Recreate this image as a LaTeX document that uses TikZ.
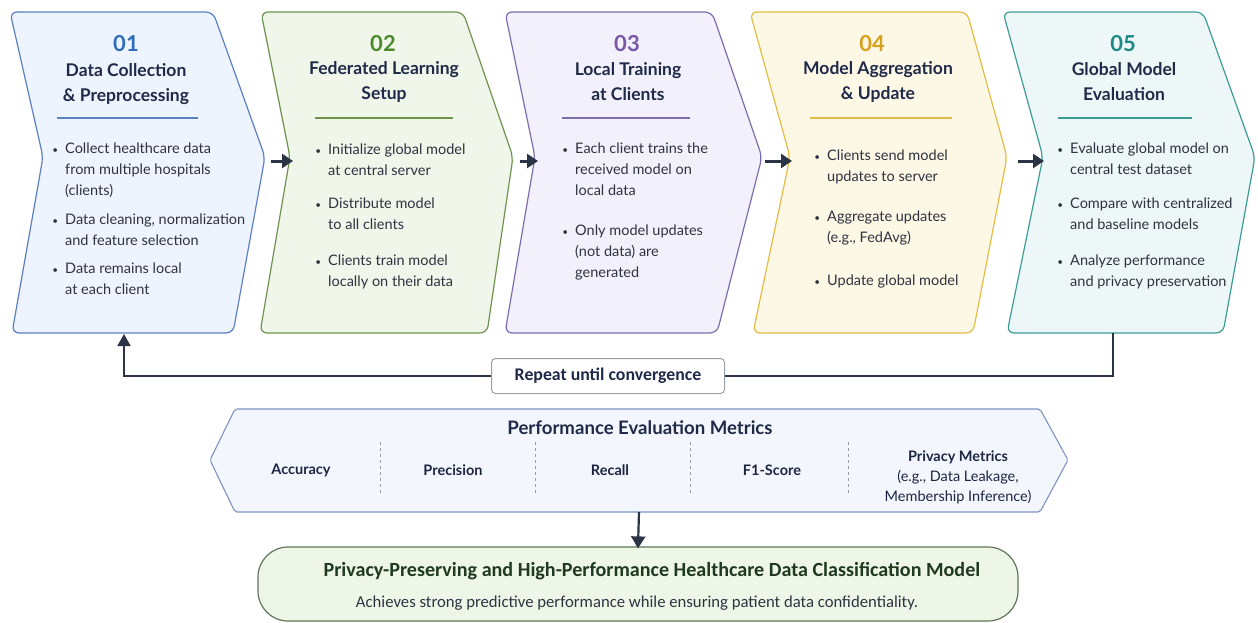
\documentclass[tikz,border=0pt]{standalone}
\usepackage{fontspec}
\setmainfont{Lato}
\newfontfamily\condfont{Carlito}
\usetikzlibrary{arrows.meta}

% stage colours: border (B), fill (F), number (N)
\definecolor{blueB}{HTML}{5B7FC4}
\definecolor{blueF}{HTML}{EEF4FD}
\definecolor{blueN}{HTML}{2F6DB8}
\definecolor{greenB}{HTML}{6E9450}
\definecolor{greenF}{HTML}{F1F6EA}
\definecolor{greenN}{HTML}{4B8B2B}
\definecolor{purpB}{HTML}{7D6DAE}
\definecolor{purpF}{HTML}{F2F0FA}
\definecolor{purpN}{HTML}{7657A8}
\definecolor{goldB}{HTML}{E3BD45}
\definecolor{goldF}{HTML}{FDF7E6}
\definecolor{goldN}{HTML}{D9A21E}
\definecolor{tealB}{HTML}{3D9C97}
\definecolor{tealF}{HTML}{EDF7F7}
\definecolor{tealN}{HTML}{1E8A84}
\definecolor{navy}{HTML}{1F2A48}
\definecolor{bodytxt}{HTML}{2F3340}
\definecolor{arrowc}{HTML}{2B3445}
\definecolor{metB}{HTML}{7D94C0}
\definecolor{metF}{HTML}{F3F6FC}
\definecolor{resB}{HTML}{5F7658}
\definecolor{resF}{HTML}{EEF6E8}
\definecolor{resT}{HTML}{1F3A1F}
\definecolor{sepc}{HTML}{9AA0AA}

% one chevron-shaped stage box: name, top-left x, top-right x, tip x,
% bottom-right x, bottom-left x, notch x, colour prefix
\newcommand\stagechev[8]{%
  \draw[chevbox, draw=#8B, fill=#8F] (#2,12) -- (#3,12) -- (#4,157) -- (#5,333)
    -- (#6,333) -- (#7,157) -- cycle;
  \coordinate (#1tip) at (#4,161);
  \coordinate (#1notch) at (#7,161);
}
\newcommand\bdot{\llap{{\fontsize{10}{10}\selectfont\textbullet}\hspace{7pt}}}

\begin{document}
\begin{tikzpicture}[x=1pt,y=-1pt,
  chevbox/.style={line width=1.2pt, rounded corners=7pt},
  numtxt/.style={font=\fontsize{22}{24}\selectfont\bfseries},
  titletxt/.style={font=\fontsize{17.5}{25}\selectfont\bfseries, text=navy, align=center},
  bullettxt/.style={font=\fontsize{14.5}{21}\selectfont, text=bodytxt, align=left,
    anchor=north west, inner sep=0pt},
  headrule/.style={line width=1.2pt},
  flowarrow/.style={draw=arrowc, line width=3pt, -{Triangle[length=11pt,width=14pt]}},
  loopline/.style={draw=arrowc, line width=1.8pt},
  metlabel/.style={font=\fontsize{14.5}{20}\selectfont\bfseries, text=navy!90!black, align=center},
  sepline/.style={draw=sepc, dashed, line width=0.9pt}
]
\useasboundingbox (0,0) rectangle (1258,623);

% ---------- five stage boxes ----------
\stagechev{s1}{10}{213}{265}{233}{12}{43}{blue}
\stagechev{s2}{261}{463}{513}{487}{260}{290}{green}
\stagechev{s3}{505}{712}{762}{717}{505}{535}{purp}
\stagechev{s4}{750}{967}{1007}{973}{753}{790}{gold}
\stagechev{s5}{1003}{1203}{1255}{1223}{1007}{1043}{teal}

% stage 01
\node[numtxt, text=blueN] (n1) at (126,44) {01};
\node[titletxt] (t1) at (126,84) {Data Collection\\\& Preprocessing};
\draw[headrule, blueB] (57,118) -- (198,118);
\node[bullettxt] (p1a) at (65,143) {\bdot Collect healthcare data\\from multiple hospitals\\(clients)};
\node[bullettxt] (p1b) at (65,214) {\bdot Data cleaning, normalization\\and feature selection};
\node[bullettxt] (p1c) at (65,263) {\bdot Data remains local\\at each client};

% stage 02
\node[numtxt, text=greenN] (n2) at (383,44) {02};
\node[titletxt] (t2) at (384,82) {Federated Learning\\Setup};
\draw[headrule, greenB] (315,118) -- (453,118);
\node[bullettxt] (p2a) at (328,144) {\bdot Initialize global model\\at central server};
\node[bullettxt] (p2b) at (328,198) {\bdot Distribute model\\to all clients};
\node[bullettxt] (p2c) at (328,255) {\bdot Clients train model\\locally on their data};

% stage 03
\node[numtxt, text=purpN] (n3) at (627,44) {03};
\node[titletxt] (t3) at (628,82) {Local Training\\at Clients};
\draw[headrule, purpB] (562,118) -- (690,118);
\node[bullettxt] (p3a) at (575,143) {\bdot Each client trains the\\received model on\\local data};
\node[bullettxt] (p3b) at (575,225) {\bdot Only model updates\\(not data) are\\generated};

% stage 04
\node[numtxt, text=goldN] (n4) at (872,44) {04};
\node[titletxt] (t4) at (878,82) {Model Aggregation\\\& Update};
\draw[headrule, goldB] (810,118) -- (952,118);
\node[bullettxt] (p4a) at (827,150) {\bdot Clients send model\\updates to server};
\node[bullettxt] (p4b) at (827,211) {\bdot Aggregate updates\\(e.g., FedAvg)};
\node[bullettxt] (p4c) at (827,275) {\bdot Update global model};

% stage 05
\node[numtxt, text=tealN] (n5) at (1123,44) {05};
\node[titletxt] (t5) at (1124,82) {Global Model\\Evaluation};
\draw[headrule, tealB] (1058,118) -- (1192,118);
\node[bullettxt] (p5a) at (1070,143) {\bdot Evaluate global model on\\central test dataset};
\node[bullettxt] (p5b) at (1070,198) {\bdot Compare with centralized\\and baseline models};
\node[bullettxt] (p5c) at (1070,255) {\bdot Analyze performance\\and privacy preservation};

% arrows between stages
\draw[flowarrow, shorten <=6pt, shorten >=-3pt] (s1tip) -- (s2notch);
\draw[flowarrow, shorten <=7pt, shorten >=-3pt] (s2tip) -- (s3notch);
\draw[flowarrow, shorten <=3pt, shorten >=-2pt] (s3tip) -- (s4notch);
\draw[flowarrow, shorten <=11pt, shorten >=-1pt] (s4tip) -- (s5notch);

% ---------- iteration loop ----------
\coordinate (s5out) at (1113,333);
\coordinate (s1in) at (124,334);
\node[draw=sepc, fill=white, rounded corners=4pt, line width=1pt,
      minimum width=233pt, minimum height=35pt,
      font=\condfont\fontsize{17.8}{20}\selectfont\bfseries, text=navy] (rep) at (608,376) {Repeat until convergence};
\draw[loopline] (s5out) |- (rep.east);
\draw[loopline, -{Triangle[length=12pt,width=13pt]}] (rep.west) -| (s1in);

% ---------- metrics banner ----------
\draw[draw=metB, fill=metF, line width=1.1pt, rounded corners=2pt]
  (235,409) -- (1040,409) -- (1068,460) -- (1040,512) -- (235,512) -- (210,460) -- cycle;
\coordinate (metbot) at (639,512);
\node[font=\fontsize{18.6}{20}\selectfont\bfseries, text=navy] (mett) at (640,428) {Performance Evaluation Metrics};
\draw[sepline] (380,442) -- (380,496);
\draw[sepline] (535,442) -- (535,496);
\draw[sepline] (690,442) -- (690,496);
\draw[sepline] (848,442) -- (848,496);
\node[metlabel] (m1) at (301,470) {Accuracy};
\node[metlabel] (m2) at (453,470) {Precision};
\node[metlabel] (m3) at (610,470) {Recall};
\node[metlabel] (m4) at (772,470) {F1-Score};
\node[metlabel] (m5) at (958,477) {Privacy Metrics\\{\mdseries(e.g., Data Leakage,}\\{\mdseries Membership Inference)}};

% ---------- outcome ----------
\node[draw=resB, fill=resF, line width=1.2pt, rounded corners=30pt,
      minimum width=760pt, minimum height=74pt] (res) at (638,584) {};
\node[font=\condfont\fontsize{20.1}{22}\selectfont\bfseries, text=resT] (rest) at (652,571)
  {Privacy-Preserving and High-Performance Healthcare Data Classification Model};
\node[font=\condfont\fontsize{16.7}{20}\selectfont, text=bodytxt] (ress) at (637,603)
  {Achieves strong predictive performance while ensuring patient data confidentiality.};
\draw[flowarrow, line width=2.2pt, -{Triangle[length=12pt,width=14pt]}, shorten >=-2pt] (metbot) -- (res.north);

\end{tikzpicture}
\end{document}
